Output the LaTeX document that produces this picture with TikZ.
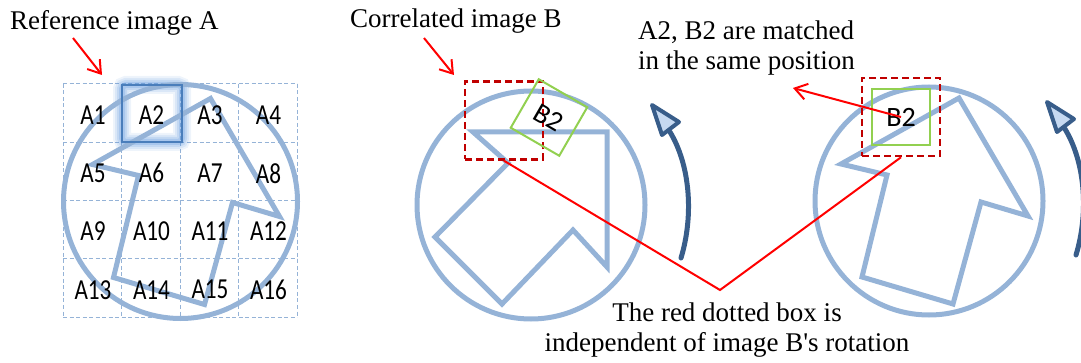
\documentclass[tikz,border=0pt]{standalone}
\usepackage{fontspec}
\newfontfamily\labelfont{Liberation Serif}
\newfontfamily\cellfont[FakeStretch=0.8]{Carlito}
\newfontfamily\boxfont{Carlito}
\usepackage{xcolor}
\definecolor{shapeblue}{HTML}{95B3D7}
\definecolor{edgeblue}{HTML}{4A7EBB}
\definecolor{glowblue}{HTML}{5B95DC}
\definecolor{rotblue}{HTML}{385D8A}
\definecolor{rotfill}{HTML}{C6D9F1}
\definecolor{boxred}{HTML}{C00000}
\definecolor{matchgreen}{HTML}{92D050}
\usepackage{tikz}
\usetikzlibrary{arrows.meta}

\begin{document}
\begin{tikzpicture}[x=1pt,y=-1pt,
  lbl/.style={font=\labelfont\fontsize{27}{30}\selectfont,inner sep=0pt},
  cell/.style={font=\cellfont\fontsize{29}{30}\selectfont,inner sep=0pt},
  gridline/.style={shapeblue,line width=1pt,dash pattern=on 4pt off 2.5pt},
  outline/.style={shapeblue,line width=5pt,line join=miter},
  redbox/.style={draw=boxred,line width=2.5pt,dash pattern=on 7pt off 4pt,minimum width=78pt,minimum height=78pt,inner sep=0pt},
  greenbox/.style={draw=matchgreen,line width=2pt,minimum size=56pt,inner sep=0pt,font=\boxfont\fontsize{28}{30}\selectfont},
  redline/.style={red,line width=2pt},
  redarr/.style={redline,-{Straight Barb[length=12pt,width=16pt]}},
  rotarc/.style={rotblue,line width=5pt,line cap=round},
  rothead/.style={draw=rotblue,fill=rotfill,line width=4pt,line join=round}]
  \useasboundingbox (0,0) rectangle (1081,363);
  % reference image A: dashed 4x4 grid
  \foreach \k in {0,...,4} {
    \draw[gridline] ({63+58.5*\k},84) -- ({63+58.5*\k},317);
    \draw[gridline] (63,{84+58.25*\k}) -- (297,{84+58.25*\k});
  }
  % glow round A2
  \foreach \w/\o in {18/.10,14/.14,10/.18,6/.25}
    \draw[glowblue,line width=\w pt,opacity=\o,rounded corners=4pt] (122,85) rectangle (182,142);
  % circle + arrow, same shape in A and in the rotated copy
  \foreach \cx/\cy/\r in {180.5/201.5/117, 929/201/114} {
    \draw[outline] (\cx,\cy) circle [radius=\r];
    \begin{scope}[shift={(\cx,\cy)}]
      \draw[outline] (30,-103) -- (99,15) -- (52,1) -- (24,103) -- (-67,76) -- (-42,-26) -- (-88,-37) -- cycle;
    \end{scope}
  }
  \node[draw=edgeblue,line width=2.5pt,minimum width=60pt,minimum height=57pt,inner sep=0pt] (hlA) at (152,113.5) {};
  \foreach \i in {1,...,16} {
    \pgfmathtruncatemacro\col{mod(\i-1,4)}
    \pgfmathtruncatemacro\row{(\i-1)/4}
    \node[cell] (A\i) at ({93+58.5*\col},{115+58.25*\row}) {A\i};
  }
  % correlated image B
  \draw[outline] (531,205) circle [radius=114];
  \draw[outline] (473,132) -- (607,132) -- (607,267) -- (573,230) -- (502,304) -- (435,237) -- (508,163) -- cycle;
  \node[redbox] (redB) at (504,120.5) {};
  \node[greenbox,rotate=-30] (b2B) at (549,117.5) {B2};
  \node[redbox] (redC) at (901,117) {};
  \node[greenbox,minimum width=58pt,minimum height=56pt] (b2C) at (901,117) {B2};
  % rotation arcs
  \foreach \dx/\dy in {0/0,395/-3} {
    \begin{scope}[shift={(\dx,\dy)}]
      \draw[rotarc] (681,258) .. controls (694,215) and (690,165) .. (670,132);
      \draw[rothead] (652,105) -- (679,122) -- (662,135) -- cycle;
    \end{scope}
  }
  % labels
  \node[lbl,anchor=base west] (refA) at (10,30) {Reference image A};
  \node[lbl,anchor=base west] (corB) at (350,28) {Correlated image B};
  \node[lbl,anchor=base west,align=left] (match) at (638,70) {A2, B2 are matched\\in the same position};
  \node[lbl,anchor=base,align=center] (note) at (727,351) {The red dotted box is\\independent of image B's rotation};
  \coordinate (refTip) at (102,75);
  \coordinate (corTip) at (454,75);
  \coordinate (matchTip) at (793,88);
  \coordinate (vtx) at (720,290);
  \draw[redarr] (73,38) -- (refTip);
  \draw[redarr] (424,38) -- (corTip);
  \draw[redline] (redB.south) -- (vtx) -- (redC.south);
  \draw[redarr] (b2C.center) -- (matchTip);
\end{tikzpicture}
\end{document}
